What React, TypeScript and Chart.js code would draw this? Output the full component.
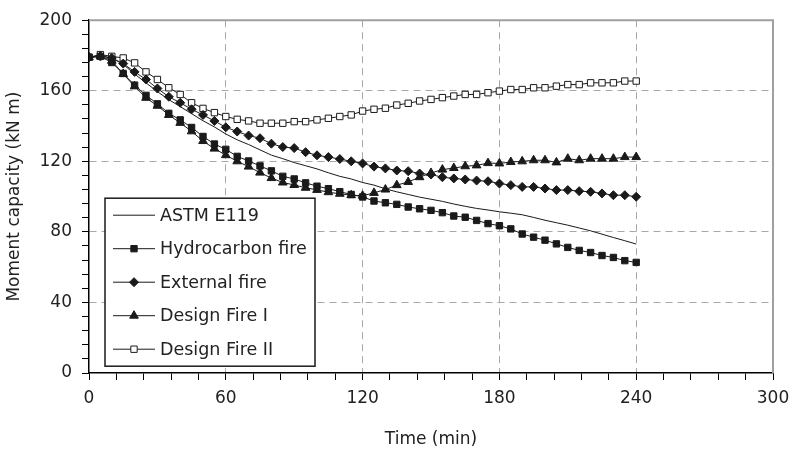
import React, { useEffect, useRef } from 'react';
import { Chart, registerables } from 'chart.js';
import { drawPoint } from 'chart.js/helpers';

Chart.register(...registerables);

const TIMES = [0, 5, 10, 15, 20, 25, 30, 35, 40, 45, 50, 55, 60, 65, 70, 75, 80, 85, 90, 95, 100, 105, 110, 115, 120, 125, 130, 135, 140, 145, 150, 155, 160, 165, 170, 175, 180, 185, 190, 195, 200, 205, 210, 215, 220, 225, 230, 235, 240];

const ASTM_E119 = [179, 180, 178.5, 175, 169.5, 164.5, 159.5, 155, 151, 147, 143, 139.5, 135.5, 132.2, 129.5, 126.5, 123.5, 121.5, 119.3, 117.5, 115.7, 113.5, 111.5, 110, 108, 106.5, 104.4, 102.7, 101.2, 99.7, 98.5, 97.3, 95.8, 94.5, 93.3, 92.4, 91.4, 90.6, 89.7, 88.2, 86.6, 85.2, 83.8, 82.2, 80.6, 78.7, 76.8, 75, 73.1];

const HYDROCARBON = [179, 179.5, 176, 169.8, 163.2, 157.4, 152.6, 147.2, 143.5, 139.2, 134.1, 129.8, 126.8, 122.8, 120.2, 117.4, 114.6, 111.5, 110, 107.8, 105.9, 104.5, 102.8, 101.2, 99.8, 97.5, 96.5, 95.6, 94.1, 93.1, 92.2, 90.9, 89, 88.3, 86.5, 84.7, 83.5, 81.7, 78.8, 77, 75.3, 73.2, 71.2, 69.5, 68.3, 66.6, 65.5, 63.7, 62.7];

const EXTERNAL = [179, 179.5, 178.6, 175.4, 170.7, 166.4, 161.3, 156.6, 153.2, 149.5, 146.3, 142.9, 139.3, 136.9, 134.6, 133.1, 130, 128.1, 127.5, 125.2, 123.4, 122.4, 121.3, 120, 118.8, 117, 116, 114.8, 114.4, 113.1, 112.5, 111, 110.3, 109.7, 109.1, 108.7, 107.4, 106.5, 105.5, 105.5, 104.6, 103.7, 103.7, 103.1, 102.7, 101.8, 100.8, 100.8, 99.9];

const DESIGN_FIRE_I = [179, 179.5, 177, 169.5, 162.5, 156, 151.5, 146.3, 141.8, 137, 131.5, 127.2, 123.5, 120, 117, 113.6, 110.5, 108, 106.6, 105, 103.8, 102.5, 101.6, 100.8, 100.5, 102.1, 104, 106.5, 108.3, 111, 113.4, 115.3, 116.2, 117.2, 117.7, 119, 118.8, 119.6, 120, 120.6, 120.6, 119.4, 121.5, 120.6, 121.5, 121.5, 121.5, 122.4, 122.4];

const DESIGN_FIRE_II = [179, 180.5, 179.5, 178.6, 175.8, 170.7, 166.4, 161.7, 157.9, 153.2, 150, 147.6, 145.4, 143.8, 142.9, 141.6, 141.6, 141.6, 142.5, 142.5, 143.5, 144.4, 145.4, 146.3, 148.5, 149.5, 150.1, 151.9, 152.9, 154.2, 155.1, 156.1, 157, 157.9, 157.9, 158.9, 159.8, 160.7, 160.7, 161.7, 161.7, 162.6, 163.5, 163.5, 164.5, 164.5, 164.5, 165.5, 165.5];

const SERIES_NAMES = ['ASTM E119', 'Hydrocarbon fire', 'External fire', 'Design Fire I', 'Design Fire II'];
const X_TICK_LABELS = [0, 60, 120, 180, 240, 300];
const Y_TICK_LABELS = [0, 40, 80, 120, 160, 200];
const X_TITLE = 'Time (min)';
const Y_TITLE = 'Moment capacity (kN m)';

const FONT = 'DejaVu Sans';
const INK = '#1a1a1a';
const GRID = '#a8a8a8';

const toPoints = (ys: number[]) => TIMES.map((t, i) => ({ x: t, y: ys[i] }));

const framePlugin = {
  id: 'frame',
  beforeDatasetsDraw(chart: any) {
    const { ctx, chartArea: a } = chart;
    ctx.save();
    ctx.strokeStyle = '#a0a0a0';
    ctx.lineWidth = 2;
    ctx.beginPath();
    ctx.moveTo(a.left, a.top);
    ctx.lineTo(a.right, a.top);
    ctx.lineTo(a.right, a.bottom);
    ctx.stroke();
    ctx.restore();
  },
};

const legendPlugin = {
  id: 'boxLegend',
  afterDatasetsDraw(chart: any) {
    const { ctx, chartArea: a } = chart;
    const left = a.left + 16;
    const top = a.top + 178;
    const w = 210;
    const h = 168;
    ctx.save();
    ctx.fillStyle = '#ffffff';
    ctx.fillRect(left, top, w, h);
    ctx.strokeStyle = INK;
    ctx.lineWidth = 1.5;
    ctx.strokeRect(left, top, w, h);
    chart.data.datasets.forEach((ds: any, i: number) => {
      const y = top + 17 + i * 33.5;
      ctx.strokeStyle = ds.borderColor;
      ctx.lineWidth = ds.borderWidth;
      ctx.beginPath();
      ctx.moveTo(left + 8, y);
      ctx.lineTo(left + 50, y);
      ctx.stroke();
      if (ds.pointRadius > 0) {
        ctx.fillStyle = ds.pointBackgroundColor;
        ctx.strokeStyle = ds.pointBorderColor;
        ctx.lineWidth = ds.pointBorderWidth;
        drawPoint(ctx, { pointStyle: ds.pointStyle, radius: ds.pointRadius, borderWidth: ds.pointBorderWidth, rotation: 0 }, left + 29, y);
      }
      ctx.fillStyle = '#222';
      ctx.font = `17.5px "${FONT}"`;
      ctx.textBaseline = 'middle';
      ctx.textAlign = 'left';
      ctx.fillText(ds.label, left + 55, y + 1);
    });
    ctx.restore();
  },
};

export default function App() {
  const ref = useRef<HTMLCanvasElement | null>(null);

  useEffect(() => {
    document.body.style.margin = '0';
    if (!ref.current) return;
    const common = { borderColor: INK, borderWidth: 1, pointBorderColor: INK, pointBorderWidth: 1, tension: 0 };
    const chart = new Chart(ref.current, {
      type: 'line',
      data: {
        datasets: [
          { ...common, label: SERIES_NAMES[0], data: toPoints(ASTM_E119), pointRadius: 0, pointStyle: 'circle', pointBackgroundColor: INK },
          { ...common, label: SERIES_NAMES[1], data: toPoints(HYDROCARBON), pointRadius: 4.5, pointStyle: 'rect', pointBackgroundColor: INK },
          { ...common, label: SERIES_NAMES[2], data: toPoints(EXTERNAL), pointRadius: 4.5, pointStyle: 'rectRot', pointBackgroundColor: INK },
          { ...common, label: SERIES_NAMES[3], data: toPoints(DESIGN_FIRE_I), pointRadius: 5, pointStyle: 'triangle', pointBackgroundColor: INK },
          { ...common, label: SERIES_NAMES[4], data: toPoints(DESIGN_FIRE_II), pointRadius: 4.5, pointStyle: 'rect', pointBackgroundColor: '#ffffff' },
        ],
      },
      options: {
        animation: false,
        responsive: false,
        devicePixelRatio: 1,
        layout: { padding: { top: 18, right: 21, left: 0, bottom: 0 } },
        plugins: { legend: { display: false }, tooltip: { enabled: false } },
        scales: {
          x: {
            type: 'linear',
            min: 0,
            max: 300,
            afterFit: (s: any) => { s.height = 77; s.paddingRight = 0; s.paddingLeft = 0; },
            border: { color: '#000', width: 1.5, dash: [7, 5] },
            grid: {
              color: (c: any) => (c.tick && c.tick.value % 60 === 0 && c.tick.value !== 0 ? GRID : 'rgba(0,0,0,0)'),
              tickColor: '#000',
              tickLength: 7,
              tickWidth: 1,
              tickBorderDash: [],
            },
            ticks: {
              stepSize: 12,
              autoSkip: false,
              maxRotation: 0,
              padding: 8,
              color: '#222',
              font: { family: FONT, size: 17 },
              callback: (v: any) => (X_TICK_LABELS.includes(Number(v)) ? String(v) : ''),
            },
            title: { display: true, text: X_TITLE, color: '#222', font: { family: FONT, size: 17 }, padding: { top: 0, bottom: 0 } },
          },
          y: {
            type: 'linear',
            min: 0,
            max: 200,
            afterFit: (s: any) => { s.width = 89; },
            border: { color: '#000', width: 1.5, dash: [7, 5] },
            grid: {
              color: (c: any) => (c.tick && c.tick.value % 40 === 0 && c.tick.value !== 0 ? GRID : 'rgba(0,0,0,0)'),
              tickColor: '#000',
              tickLength: 7,
              tickWidth: 1,
              tickBorderDash: [],
            },
            ticks: {
              stepSize: 8,
              autoSkip: false,
              padding: 10,
              color: '#222',
              font: { family: FONT, size: 17 },
              callback: (v: any) => (Y_TICK_LABELS.includes(Number(v)) ? String(v) : ''),
            },
            title: { display: true, text: Y_TITLE, color: '#222', font: { family: FONT, size: 17 }, padding: { top: 4, bottom: 0 } },
          },
        },
      },
      plugins: [framePlugin, legendPlugin],
    } as any);
    return () => chart.destroy();
  }, []);

  return (
    <div style={{ width: 794, height: 450 }}>
      <canvas ref={ref} width={794} height={450} style={{ display: 'block' }} />
    </div>
  );
}
